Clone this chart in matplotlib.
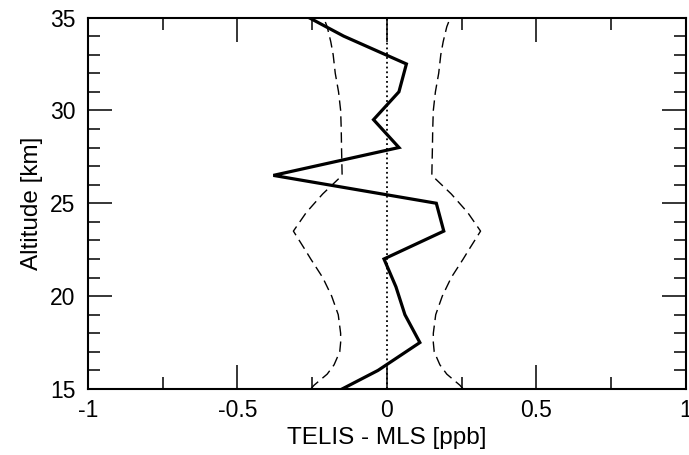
import matplotlib
matplotlib.use("Agg")
import matplotlib.pyplot as plt
from matplotlib.ticker import MultipleLocator

plt.rcParams['font.family'] = ['Liberation Sans', 'DejaVu Sans']

# mean difference TELIS - MLS
alt = [14.5, 16, 17.5, 19, 20.5, 22, 23.5, 25, 26.5, 28, 29.5, 31, 32.5, 34, 35.5]
diff = [-0.21, -0.03, 0.11, 0.06, 0.03, -0.01, 0.19, 0.165, -0.38, 0.04,
        -0.045, 0.04, 0.065, -0.145, -0.32]

# error envelope (plotted as +/-)
alt_err = [15, 15.2, 15.8, 16.3, 17, 17.5, 18, 19, 20, 21, 22, 22.5, 23.5,
           24.5, 25.5, 26.5, 28, 29, 30, 31, 32, 33, 33.7, 34.5, 35]
err = [0.255, 0.244, 0.2, 0.177, 0.158, 0.155, 0.155, 0.163, 0.185, 0.215,
       0.255, 0.274, 0.313, 0.27, 0.215, 0.15, 0.152, 0.153, 0.155, 0.162,
       0.173, 0.18, 0.188, 0.2, 0.212]

fig = plt.figure(figsize=(6.89, 4.55), dpi=100)
ax = fig.add_axes([0.1277, 0.1451, 0.9956 - 0.1277, 0.9615 - 0.1451])

ax.plot([0, 0], [15, 35], color='k', linestyle=':', linewidth=1.3)
ax.plot([e for e in err], alt_err, color='k', linewidth=1.0, dashes=(7.5, 4))
ax.plot([-e for e in err], alt_err, color='k', linewidth=1.0, dashes=(7.5, 4))
ax.plot(diff, alt, color='k', linewidth=2.3, solid_joinstyle='miter')

ax.set_xlim(-1, 1)
ax.set_ylim(15, 35)
ax.xaxis.set_major_locator(MultipleLocator(0.5))
ax.xaxis.set_minor_locator(MultipleLocator(0.25))
ax.yaxis.set_major_locator(MultipleLocator(5))
ax.yaxis.set_minor_locator(MultipleLocator(1))
ax.set_xticks([-1, -0.5, 0, 0.5, 1])
ax.set_xticklabels(['-1', '-0.5', '0', '0.5', '1'])

ax.tick_params(which='both', direction='in', top=True, right=True,
               width=1.1, labelsize=16.5)
ax.tick_params(which='major', length=17, pad=9)
ax.tick_params(which='minor', length=8.5)
ax.tick_params(axis='x', which='major', pad=7)
for s in ax.spines.values():
    s.set_linewidth(1.5)

ax.set_xlabel('TELIS - MLS [ppb]', fontsize=17.5, labelpad=4)
ax.set_ylabel('Altitude [km]', fontsize=17.5, labelpad=5)

fig.savefig('out.png', dpi=100)
